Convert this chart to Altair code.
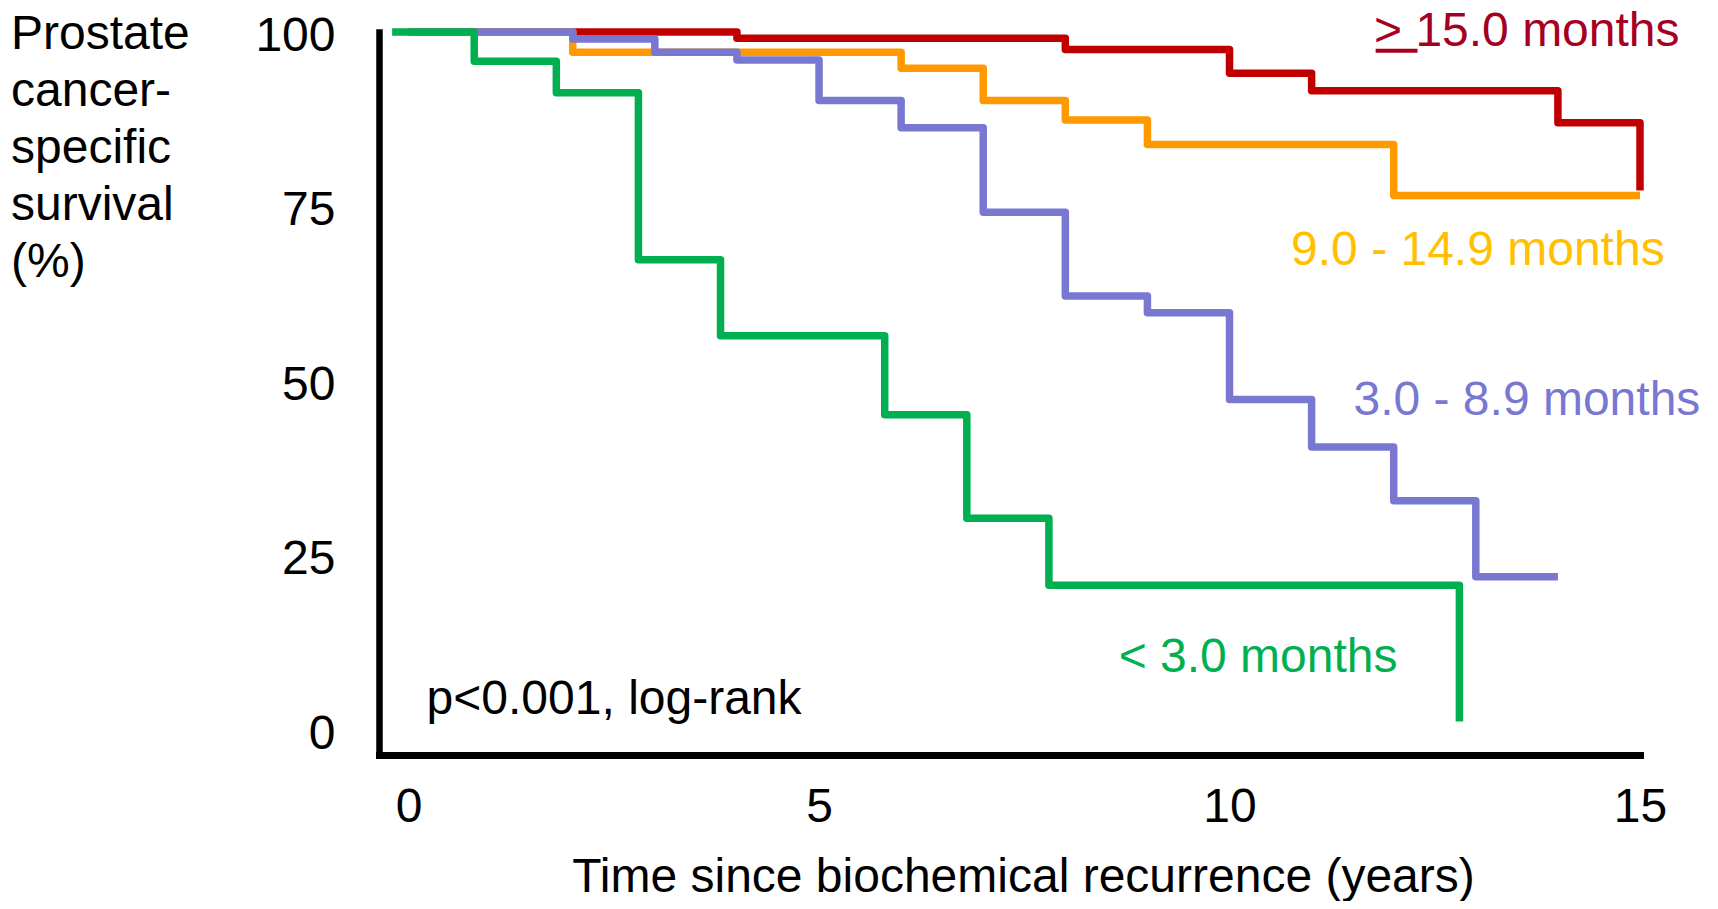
import altair as alt
import pandas as pd

FONT = "Liberation Sans"

# ---- data ----
groups = ["> 15.0 months", "9.0 - 14.9 months", "3.0 - 8.9 months", "< 3.0 months"]
line_colors = ["#C00000", "#FF9900", "#7878D2", "#00B050"]
text_colors = ["#A50021", "#FFC000", "#7878D2", "#00B050"]

red_t = [0, 4, 8, 10, 11, 14, 15]
red_s = [100, 99.1, 97.5, 94.1, 91.6, 87.0, 77.3]

orange_t = [0, 2, 6, 7, 8, 9, 12, 15]
orange_s = [100, 97.1, 94.8, 90.2, 87.4, 83.9, 76.6, 76.6]

purple_t = [0, 2, 3, 4, 5, 6, 7, 8, 9, 10, 11, 12, 13, 14]
purple_s = [100, 99.0, 97.1, 96.0, 90.2, 86.3, 74.2, 62.2, 59.8, 47.4, 40.6, 32.9, 22.0, 22.0]

green_t = [-0.2, 0.8, 1.8, 2.8, 3.8, 5.8, 6.8, 7.8, 12.8]
green_s = [100, 95.8, 91.3, 67.4, 56.5, 45.2, 30.4, 20.8, 1.3]

x_ticks = [0, 5, 10, 15]
y_ticks = [0, 25, 50, 75, 100]

x_title = "Time since biochemical recurrence (years)"
y_title = ["Prostate", "cancer-", "specific", "survival", "(%)"]
p_text = "p<0.001, log-rank"

# annotation anchors (data coordinates)
label_t = [11.76, 10.75, 11.51, 8.65]
label_s = [98.0, 66.6, 45.2, 8.4]

rows = []
for g, ts, ss in zip(groups, [red_t, orange_t, purple_t, green_t],
                     [red_s, orange_s, purple_s, green_s]):
    for t, s in zip(ts, ss):
        rows.append({"group": g, "t": t, "s": s})
df = pd.DataFrame(rows)

labels_df = pd.DataFrame({"group": groups, "t": label_t, "s": label_s})

xscale = alt.Scale(domain=[-0.36, 15], nice=False, zero=False)
yscale = alt.Scale(domain=[-3.5, 100], nice=False, zero=False)
cscale = alt.Scale(domain=groups, range=line_colors)

xaxis = alt.Axis(values=x_ticks, format="d", title=x_title, grid=False,
                 ticks=False, tickSize=0, labelFontSize=48, labelFont=FONT,
                 labelColor="black", labelPadding=28, labelFlush=False,
                 labelOverlap=False, labelBound=False,
                 domainColor="black", domainWidth=7, domainCap="square",
                 titleFont=FONT, titleFontSize=48, titleFontWeight="normal",
                 titleColor="black", titleX=644, titleY=136,
                 titleAlign="center", titleBaseline="alphabetic")
yaxis = alt.Axis(values=y_ticks, format="d", title=None, grid=False,
                 ticks=False, tickSize=0, labelFontSize=48, labelFont=FONT,
                 labelColor="black", labelPadding=44, labelFlush=False,
                 labelOverlap=False, labelBound=False, labelBaseline="middle",
                 labelOffset=4,
                 domainColor="black", domainWidth=6.5, domainCap="square")

base = alt.Chart(df).mark_line(
    interpolate="step-after", strokeWidth=7.5, strokeCap="butt", strokeJoin="round"
).encode(
    x=alt.X("t:Q", scale=xscale, axis=xaxis),
    y=alt.Y("s:Q", scale=yscale, axis=yaxis),
    color=alt.Color("group:N", scale=cscale, legend=None),
)

layers = [base.transform_filter(alt.datum.group == g) for g in groups]

label_layers = []
for g, c in zip(groups, text_colors):
    label_layers.append(
        alt.Chart(labels_df).transform_filter(alt.datum.group == g)
        .mark_text(align="left", baseline="alphabetic", font=FONT, fontSize=48, color=c)
        .encode(x=alt.X("t:Q", scale=xscale), y=alt.Y("s:Q", scale=yscale), text="group:N")
    )

underline = alt.Chart(pd.DataFrame({"t": [11.78], "t2": [12.29], "s": [97.3]})).mark_rule(
    color="#A50021", strokeWidth=4
).encode(x=alt.X("t:Q", scale=xscale), x2="t2:Q", y=alt.Y("s:Q", scale=yscale))

p_layer = alt.Chart(pd.DataFrame({"t": [0.22], "s": [2.4], "txt": [p_text]})).mark_text(
    align="left", baseline="alphabetic", font=FONT, fontSize=48, color="black"
).encode(x=alt.X("t:Q", scale=xscale), y=alt.Y("s:Q", scale=yscale), text="txt:N")

ytitle_layer = alt.Chart(pd.DataFrame({"a": [0]})).mark_text(
    align="left", baseline="alphabetic", font=FONT, fontSize=48, color="black",
    lineHeight=57, text=y_title
).encode(x=alt.value(-368), y=alt.value(17))

chart = alt.layer(*layers, *label_layers, underline, p_layer, ytitle_layer).properties(
    width=1261, height=723,
    padding={"left": 371, "top": 24, "right": 70, "bottom": 146},
    autosize=alt.AutoSizeParams(type="none"),
    background="white",
).configure_view(stroke=None)

chart.save("out.html", embed_options={"renderer": "svg", "actions": False})
